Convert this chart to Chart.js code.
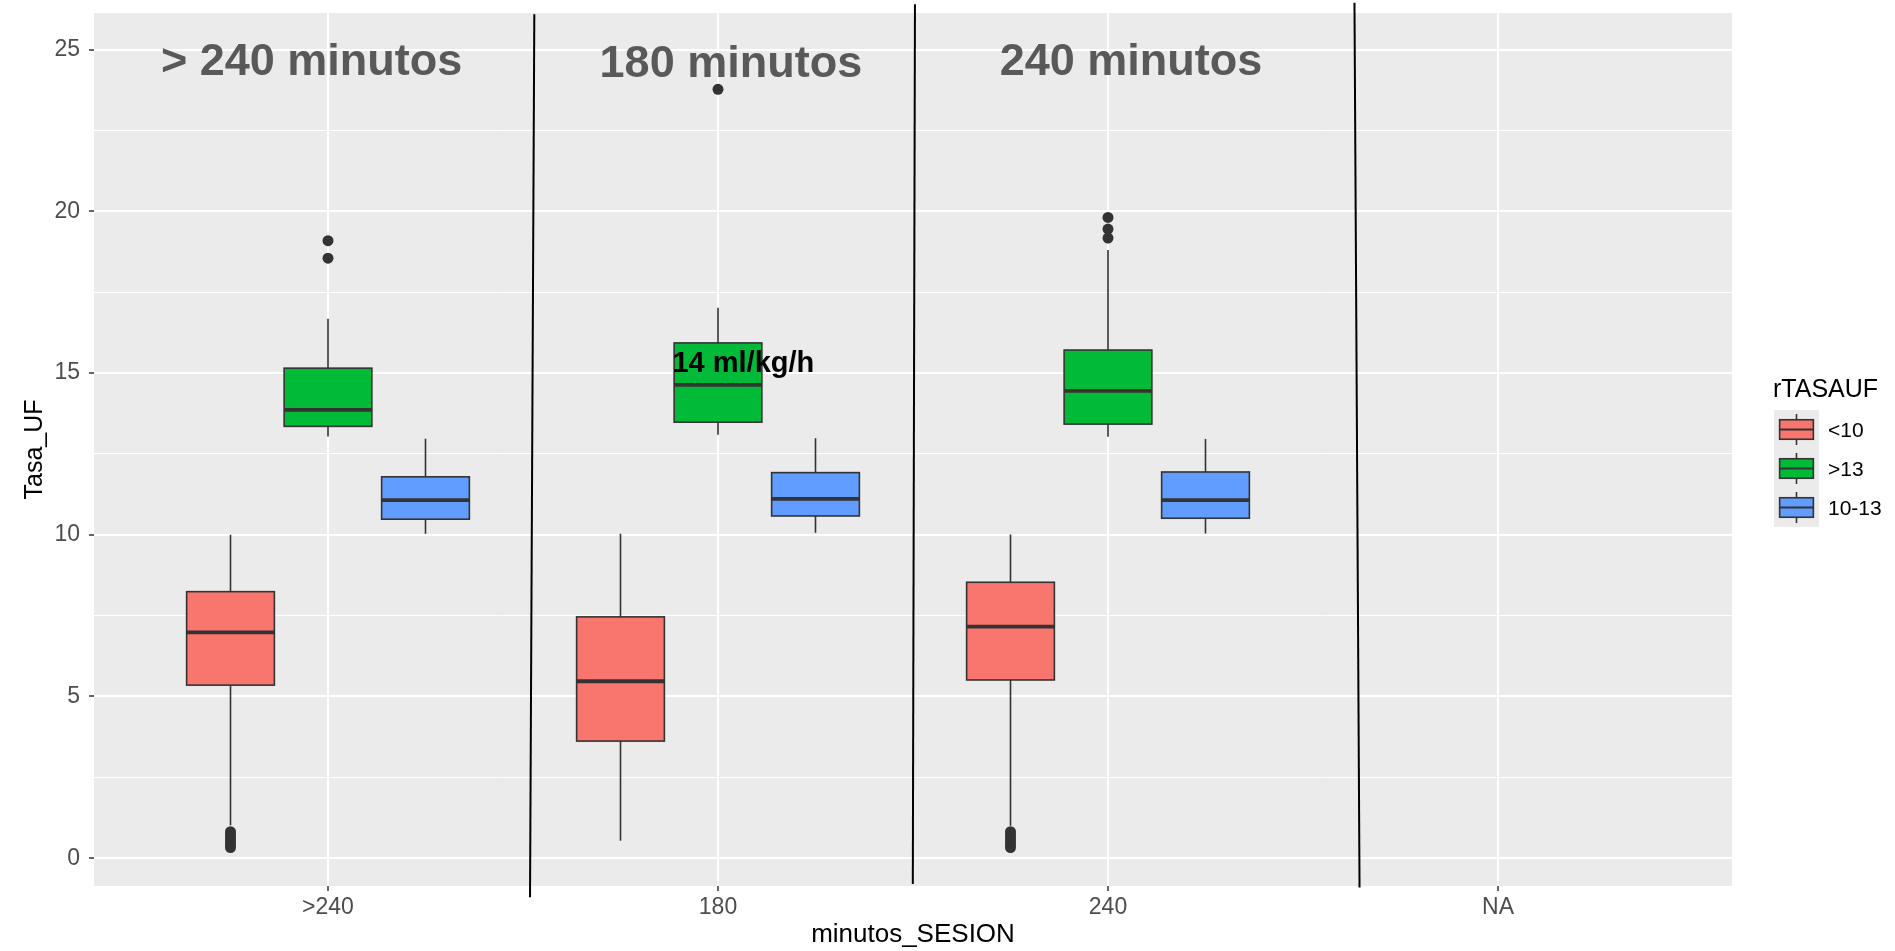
<!DOCTYPE html>
<html>
<head>
<meta charset="utf-8">
<script src="https://cdn.jsdelivr.net/npm/chart.js@4.4.0/dist/chart.umd.min.js"></script>
<style>
  html, body { margin: 0; padding: 0; background: #ffffff; }
  #wrap { width: 1895px; height: 951px; }
</style>
</head>
<body>
<div id="wrap"><canvas id="chart" width="1895" height="951"></canvas></div>
<script>
// Session length groups on the x axis
const categories = ['>240', '180', '240', 'NA'];

// UF rate groups (legend order)
const seriesNames = ['<10', '>13', '10-13'];
const seriesColors = ['#F8766D', '#00BA38', '#619CFF'];

// Box summaries per session group: [lower whisker, Q1, median, Q3, upper whisker]
const boxLt10 = [
  [1.02, 5.35, 6.98, 8.24, 10.00],
  [0.54, 3.62, 5.47, 7.46, 10.03],
  [1.00, 5.51, 7.16, 8.53, 10.01]
];
const boxGt13 = [
  [13.04, 13.35, 13.86, 15.15, 16.68],
  [13.09, 13.48, 14.63, 15.93, 17.02],
  [13.03, 13.42, 14.45, 15.71, 18.80]
];
const box10to13 = [
  [10.03, 10.48, 11.07, 11.79, 12.97],
  [10.06, 10.58, 11.11, 11.92, 12.98],
  [10.04, 10.51, 11.07, 11.94, 12.96]
];

// Outlying observations per session group
const outLt10 = [
  [0.33, 0.42, 0.52, 0.62, 0.72, 0.82],
  [],
  [0.33, 0.42, 0.52, 0.62, 0.72, 0.82]
];
const outGt13 = [
  [18.55, 19.09],
  [23.77],
  [19.17, 19.45, 19.81]
];
const out10to13 = [[], [], []];

// Y axis ticks (multiples of 5 are labelled, the rest are minor grid lines)
const yTicks = [0, 2.5, 5, 7.5, 10, 12.5, 15, 17.5, 20, 22.5, 25];

// Text annotations in data units
const noteText = ['> 240 minutos', '180 minutos', '240 minutos', '14 ml/kg/h'];
const noteX = [0.958, 2.033, 3.059, 2.065];
const noteY = [24.2, 24.15, 24.2, 15.03];

// Hand-drawn separators between session groups (top and bottom ends, data units)
const sepX = [[1.529, 1.518], [2.505, 2.4995], [3.632, 3.645]];
const sepY = [[26.09, -1.21], [26.40, -0.80], [26.45, -0.91]];

const boxStats = [boxLt10, boxGt13, box10to13];
const outliers = [outLt10, outGt13, out10to13];
const dodge = [-0.25, 0, 0.25];
const boxWidth = 0.225;
const FONT = "'Liberation Sans', Arial, sans-serif";

const datasets = seriesNames.map((name, si) => ({
  label: name,
  data: outliers[si].flatMap((vals, ci) => vals.map(v => ({ x: ci + 1 + dodge[si], y: v }))),
  pointRadius: 5.5,
  pointBackgroundColor: '#333333',
  pointBorderWidth: 0,
  showLine: false,
  clip: false
}));

const panelPlugin = {
  id: 'panel',
  beforeDraw(chart) {
    const { ctx, chartArea: a } = chart;
    ctx.save();
    ctx.fillStyle = '#EBEBEB';
    ctx.fillRect(a.left, a.top, a.right - a.left, a.bottom - a.top);
    ctx.restore();
  }
};

const boxPlugin = {
  id: 'boxes',
  beforeDatasetsDraw(chart) {
    const { ctx, scales: { x, y } } = chart;
    ctx.save();
    boxStats.forEach((series, si) => {
      series.forEach((s, ci) => {
        const cx = x.getPixelForValue(ci + 1 + dodge[si]);
        const half = (x.getPixelForValue(boxWidth) - x.getPixelForValue(0)) / 2;
        const [lo, q1, med, q3, hi] = s.map(v => y.getPixelForValue(v));
        ctx.strokeStyle = '#333333';
        ctx.lineWidth = 1.6;
        ctx.beginPath();
        ctx.moveTo(cx, hi); ctx.lineTo(cx, q3);
        ctx.moveTo(cx, q1); ctx.lineTo(cx, lo);
        ctx.stroke();
        ctx.fillStyle = seriesColors[si];
        ctx.fillRect(cx - half, q3, 2 * half, q1 - q3);
        ctx.strokeRect(cx - half, q3, 2 * half, q1 - q3);
        ctx.lineWidth = 3.8;
        ctx.beginPath();
        ctx.moveTo(cx - half, med); ctx.lineTo(cx + half, med);
        ctx.stroke();
      });
    });
    ctx.restore();
  }
};

const overlayPlugin = {
  id: 'overlay',
  afterDatasetsDraw(chart) {
    const { ctx, scales: { x, y } } = chart;
    ctx.save();
    // separators
    ctx.strokeStyle = '#000000';
    ctx.lineWidth = 2;
    sepX.forEach((xs, i) => {
      ctx.beginPath();
      ctx.moveTo(x.getPixelForValue(xs[0]), y.getPixelForValue(sepY[i][0]));
      ctx.lineTo(x.getPixelForValue(xs[1]), y.getPixelForValue(sepY[i][1]));
      ctx.stroke();
    });
    // annotations
    ctx.textAlign = 'center';
    ctx.textBaseline = 'alphabetic';
    noteText.forEach((t, i) => {
      const big = i < 3;
      ctx.font = 'bold ' + (big ? 45 : 29) + 'px ' + FONT;
      ctx.fillStyle = big ? '#595959' : '#000000';
      ctx.fillText(t, x.getPixelForValue(noteX[i]), y.getPixelForValue(noteY[i]));
    });
    ctx.restore();
  },
  afterDraw(chart) {
    const { ctx } = chart;
    ctx.save();
    // legend
    const left = 1773, keyLeft = 1774, keyTop = 410, keyW = 45, keyH = 39;
    ctx.fillStyle = '#000000';
    ctx.font = '25px ' + FONT;
    ctx.textAlign = 'left';
    ctx.textBaseline = 'alphabetic';
    ctx.fillText('rTASAUF', left, 397);
    ctx.fillStyle = '#EBEBEB';
    ctx.fillRect(keyLeft, keyTop, keyW, keyH * seriesNames.length);
    seriesNames.forEach((name, i) => {
      const top = keyTop + i * keyH;
      const cx = keyLeft + keyW / 2;
      const bl = keyLeft + keyW * 0.125, bw = keyW * 0.75;
      ctx.strokeStyle = '#333333';
      ctx.lineWidth = 1.6;
      ctx.beginPath();
      ctx.moveTo(cx, top + keyH * 0.1); ctx.lineTo(cx, top + keyH * 0.25);
      ctx.moveTo(cx, top + keyH * 0.75); ctx.lineTo(cx, top + keyH * 0.9);
      ctx.stroke();
      ctx.fillStyle = seriesColors[i];
      ctx.fillRect(bl, top + keyH * 0.25, bw, keyH * 0.5);
      ctx.strokeRect(bl, top + keyH * 0.25, bw, keyH * 0.5);
      ctx.lineWidth = 2;
      ctx.beginPath();
      ctx.moveTo(bl, top + keyH / 2); ctx.lineTo(bl + bw, top + keyH / 2);
      ctx.stroke();
      ctx.fillStyle = '#000000';
      ctx.font = '21px ' + FONT;
      ctx.fillText(name, 1828, top + keyH / 2 + 7.5);
    });
    ctx.restore();
  }
};

new Chart(document.getElementById('chart'), {
  type: 'scatter',
  data: { datasets },
  plugins: [panelPlugin, boxPlugin, overlayPlugin],
  options: {
    responsive: false,
    animation: false,
    devicePixelRatio: 1,
    events: [],
    layout: { padding: { left: 0, right: 163, top: 13, bottom: 0 } },
    plugins: { legend: { display: false }, tooltip: { enabled: false } },
    scales: {
      x: {
        type: 'linear',
        min: 0.4,
        max: 4.6,
        afterBuildTicks(s) { s.ticks = categories.map((c, i) => ({ value: i + 1 })); },
        afterFit(s) { s.height = 65; s.paddingLeft = 0; s.paddingRight = 0; },
        border: { display: false },
        grid: { color: '#FFFFFF', lineWidth: 2, tickColor: '#333333', tickWidth: 1.5, tickLength: 5 },
        ticks: {
          autoSkip: false,
          maxRotation: 0,
          padding: 3,
          color: '#4D4D4D',
          font: { family: FONT, size: 23 },
          callback: (v) => categories[Math.round(v) - 1] ?? ''
        },
        title: {
          display: true,
          text: 'minutos_SESION',
          color: '#000000',
          font: { family: FONT, size: 26, lineHeight: 1.2 },
          padding: { top: 0, bottom: 1 }
        }
      },
      y: {
        type: 'linear',
        min: -0.86,
        max: 26.13,
        afterBuildTicks(s) { s.ticks = yTicks.map(v => ({ value: v })); },
        afterFit(s) { s.width = 94; s.paddingTop = 0; s.paddingBottom = 0; },
        border: { display: false },
        grid: {
          color: '#FFFFFF',
          lineWidth: (c) => (c.tick && c.tick.value % 5 === 0 ? 2 : 1),
          tickColor: (c) => (c.tick && c.tick.value % 5 === 0 ? '#333333' : 'rgba(0,0,0,0)'),
          tickWidth: 1.5,
          tickLength: 5
        },
        ticks: {
          autoSkip: false,
          padding: 9,
          color: '#4D4D4D',
          font: { family: FONT, size: 23 },
          callback: (v) => (v % 5 === 0 ? String(v) : '')
        },
        title: {
          display: true,
          text: 'Tasa_UF',
          color: '#000000',
          font: { family: FONT, size: 25, lineHeight: 1.2 },
          padding: { top: 20, bottom: 0 }
        }
      }
    }
  }
});
</script>
</body>
</html>
